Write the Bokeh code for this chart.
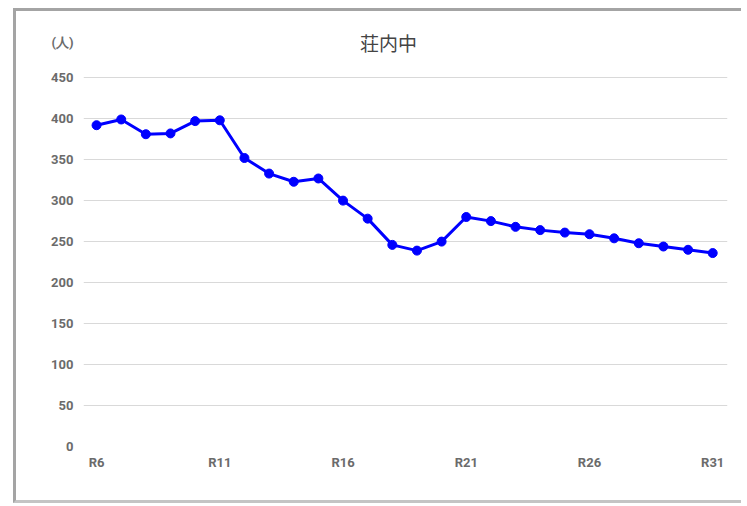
from bokeh.plotting import figure
from bokeh.models import FixedTicker, Range1d
from bokeh.core.properties import value
from bokeh.embed import file_html
from bokeh.resources import INLINE

years = ["R6", "R7", "R8", "R9", "R10", "R11", "R12", "R13", "R14", "R15",
         "R16", "R17", "R18", "R19", "R20", "R21", "R22", "R23", "R24", "R25",
         "R26", "R27", "R28", "R29", "R30", "R31"]
students = [392, 399, 381, 382, 397, 398, 352, 333, 323, 327,
            300, 278, 246, 239, 250, 280, 275, 268, 264, 261,
            259, 254, 248, 244, 240, 236]
tick_labels = ["R6", "R11", "R16", "R21", "R26", "R31"]
y_ticks = [0, 50, 100, 150, 200, 250, 300, 350, 400, 450]
title_text = "荘内中"
unit_text = "(人)"

xs = list(range(len(years)))
tick_pos = [years.index(t) for t in tick_labels]
unit_y = 493          # level of the header row (unit label and title)
title_x = 11.85       # title centred over the whole chart box

p = figure(width=728, height=495, output_backend="svg", toolbar_location=None,
           x_range=Range1d(-0.53, 25.6), y_range=Range1d(0, 510),
           min_border_left=67, min_border_right=17, min_border_top=17, min_border_bottom=60)
p.margin = (8, 0, 0, 13)
p.styles = {"border-left": "3px solid #a4a4a4", "border-top": "3px solid #a4a4a4",
            "border-bottom": "3px solid #c4c4c4", "border-right": "0px none white"}
p.outline_line_color = None
p.background_fill_color = "white"
p.border_fill_color = "white"

p.line(xs, students, line_color="#0000ff", line_width=3)
p.scatter(xs, students, size=9, fill_color="#0000ff", line_color="#0000ff")

p.xgrid.grid_line_color = None
p.ygrid.ticker = FixedTicker(ticks=y_ticks)
p.ygrid.grid_line_color = "#d9d9d9"
p.ygrid.grid_line_width = 1

p.yaxis.ticker = FixedTicker(ticks=y_ticks + [unit_y])
p.yaxis.major_label_overrides = {unit_y: unit_text}
p.xaxis.ticker = FixedTicker(ticks=tick_pos)
p.xaxis.major_label_overrides = {i: years[i] for i in tick_pos}
for ax in (p.xaxis[0], p.yaxis[0]):
    ax.axis_line_color = None
    ax.major_tick_line_color = None
    ax.minor_tick_line_color = None
    ax.major_tick_out = 0
    ax.major_tick_in = 0
    ax.major_label_text_font = "Roboto"
    ax.major_label_text_font_size = "13px"
    ax.major_label_text_font_style = "bold"
    ax.major_label_text_color = "#6b6b6b"
p.yaxis.major_label_standoff = 10
p.xaxis.major_label_standoff = 8

p.text(x=[title_x], y=[unit_y], text=[title_text], text_font=value("Noto Sans CJK JP"),
       text_font_size=value("19px"), text_color="#444444",
       text_align="center", text_baseline="middle")

open("out.html", "w").write(file_html(p, INLINE))
